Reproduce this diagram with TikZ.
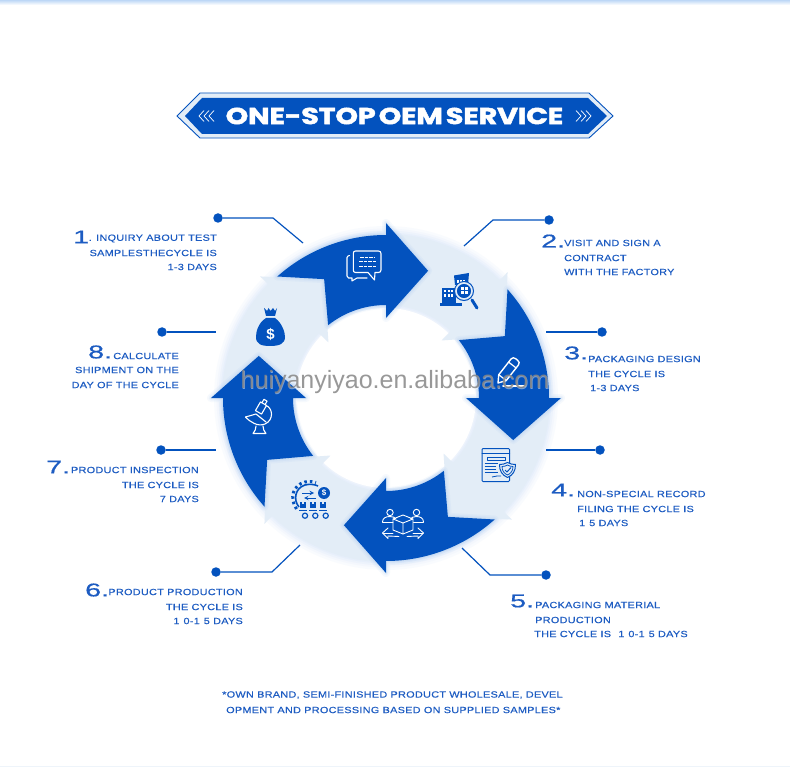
\documentclass[tikz,border=0pt]{standalone}
\usepackage{fontspec}
\usetikzlibrary{shadings}
\setmainfont{Liberation Sans}
\newfontfamily\widef[FakeStretch=1.21,LetterSpace=3,FakeBold=0.25]{Liberation Sans}
\newfontfamily\numf[FakeStretch=1.55,FakeBold=0.6]{Liberation Sans}
\newfontfamily\titlef[FakeStretch=1.25,FakeBold=2,LetterSpace=-1]{Poppins Bold}
\definecolor{royal}{HTML}{0352BE}
\definecolor{inkb}{HTML}{1D5CC2}
\definecolor{pale}{HTML}{E3EDF7}
\definecolor{halo}{HTML}{5A9BE8}
\newcommand{\darkpath}{(131.8:163) arc[start angle=131.8,end angle=90,radius=163pt] -- (90:175) -- (71.7:134) -- (90:80) -- (90:93) arc[start angle=90,end angle=128.5,radius=93pt] -- (117.5:134) -- cycle}
\newcommand{\onegap}{\hspace{4pt}}
\tikzset{
 txt/.style={font=\widef\fontsize{9}{9}\selectfont,text=inkb,inner sep=0pt},
 lft/.style={txt,anchor=west},
 rgt/.style={txt,anchor=east},
 num/.style={font=\numf\fontsize{18.5}{18.5}\selectfont,text=inkb,inner sep=0pt,anchor=west},
 lead/.style={draw=royal,line width=1.2pt},
 dotn/.style={circle,fill=royal,inner sep=0pt,minimum size=9.5pt},
 wht/.style={draw=white,line width=1.1pt,line join=round,line cap=round},
 blu/.style={draw=royal,line width=1pt,line join=round,line cap=round},
}
\begin{document}
\begin{tikzpicture}[x=1pt,y=-1pt]
\useasboundingbox (0,0) rectangle (790,767);
\fill[white] (0,0) rectangle (790,767);
\shade[top color=halo!40,bottom color=white] (0,0) rectangle (790,5);
\fill[pale!60] (0,765.5) rectangle (790,767);
% banner
\draw[draw=royal,line width=.9pt,fill=pale,line join=miter] (177,116) -- (200,93) -- (589,93) -- (613,116) -- (589,138) -- (200,138) -- cycle;
\fill[royal] (185,116) -- (202,98) -- (588,98) -- (607,116) -- (588,134) -- (202,134) -- cycle;
\foreach \a in {0,5,10}{
 \draw[white,line width=.7pt] (204+\a,110.5) -- (199+\a,116) -- (204+\a,121.5);
 \draw[white,line width=.7pt] (576+\a,110.5) -- (581+\a,116) -- (576+\a,121.5);
}
\node[font=\titlef\fontsize{23}{23}\selectfont,text=white,inner sep=0pt] (title) at (394.5,116) {ONE-STOP\hspace{3pt}OEM\hspace{3pt}SERVICE};
% ring
\begin{scope}[x=1pt,y=1pt,shift={(386pt,-398pt)}]
 \foreach \w/\o in {16/.03,11/.03,7/.04,3/.04}{
  \draw[halo,opacity=\o,line width=\w pt] (0,0) circle[radius=164pt];
  \draw[halo,opacity=\o,line width=\w pt] (0,0) circle[radius=93pt];
 }
 \fill[white] (0,0) circle[radius=90pt];
 \fill[pale,even odd rule] (0,0) circle[radius=164pt] (0,0) circle[radius=93pt];
 \foreach \k in {0,-90,-180,-270}{
  \begin{scope}[rotate=\k]
   \fill[pale] (136:175) -- (117.5:134) -- (136:80) -- cycle;
  \end{scope}
 }
 \foreach \k in {0,-90,-180,-270}{
  \begin{scope}[rotate=\k]
   \foreach \w/\o in {8/.05,5/.06,2.5/.08}{
    \draw[halo,opacity=\o,line width=\w pt,line join=round] \darkpath;
   }
   \fill[royal] \darkpath;
  \end{scope}
 }
\end{scope}
% leaders
\node[dotn] (d1) at (218,218) {};
\coordinate (e1) at (273,218); \coordinate (s1) at (303,243);
\draw[lead] (d1) -- (e1) -- (s1);
\node[dotn] (d2) at (549,220) {};
\coordinate (e2) at (493,220); \coordinate (s2) at (464,246);
\draw[lead] (d2) -- (e2) -- (s2);
\node[dotn] (d3) at (602,332) {};
\coordinate (s3) at (546,332);
\draw[lead] (d3) -- (s3);
\node[dotn] (d4) at (600,450) {};
\coordinate (s4) at (546,450);
\draw[lead] (d4) -- (s4);
\node[dotn] (d5) at (546,575) {};
\coordinate (e5) at (490,575); \coordinate (s5) at (462,548);
\draw[lead] (d5) -- (e5) -- (s5);
\node[dotn] (d6) at (216,572) {};
\coordinate (e6) at (272,572); \coordinate (s6) at (300,545);
\draw[lead] (d6) -- (e6) -- (s6);
\node[dotn] (d7) at (161,450) {};
\coordinate (s7) at (216,450);
\draw[lead] (d7) -- (s7);
\node[dotn] (d8) at (162,332) {};
\coordinate (s8) at (216,332);
\draw[lead] (d8) -- (s8);
% labels
\node[num] (n1) at (73,237) {1};
\node[rgt] (t1a) at (217,238.5) {. INQUIRY ABOUT TEST};
\node[rgt] (t1b) at (217,253) {SAMPLESTHECYCLE IS};
\node[rgt] (t1c) at (217,267) {1-3 DAYS};
\node[num] (n2) at (541,241) {2.};
\node[lft] (t2a) at (564,243) {VISIT AND SIGN A};
\node[lft] (t2b) at (564,258) {CONTRACT};
\node[lft] (t2c) at (564,272) {WITH THE FACTORY};
\node[num] (n3) at (564,353) {3.};
\node[lft] (t3a) at (588,359) {PACKAGING DESIGN};
\node[lft] (t3b) at (588,374) {THE CYCLE IS};
\node[lft] (t3c) at (590,388) {1-3 DAYS};
\node[num] (n4) at (551,490) {4.};
\node[lft] (t4a) at (577,494) {NON-SPECIAL RECORD};
\node[lft] (t4b) at (577,509) {FILING THE CYCLE IS};
\node[lft] (t4c) at (579,523) {1\onegap 5 DAYS};
\node[num] (n5) at (510,601) {5.};
\node[lft] (t5a) at (535,605) {PACKAGING MATERIAL};
\node[lft] (t5b) at (535,620) {PRODUCTION};
\node[lft] (t5c) at (534,634) {THE CYCLE IS \onegap 1\onegap 0-1\onegap 5 DAYS};
\node[num] (n6) at (85,590) {6.};
\node[rgt] (t6a) at (243,592) {PRODUCT PRODUCTION};
\node[rgt] (t6b) at (243,607) {THE CYCLE IS};
\node[rgt] (t6c) at (243,621) {1\onegap 0-1\onegap 5 DAYS};
\node[num] (n7) at (46,467) {7.};
\node[rgt] (t7a) at (199,470) {PRODUCT INSPECTION};
\node[rgt] (t7b) at (199,485) {THE CYCLE IS};
\node[rgt] (t7c) at (199,499) {7 DAYS};
\node[num] (n8) at (88,352) {8.};
\node[rgt] (t8a) at (179,356) {CALCULATE};
\node[rgt] (t8b) at (179,370) {SHIPMENT ON THE};
\node[rgt] (t8c) at (179,385) {DAY OF THE CYCLE};
\node[lft] (f1) at (222,695) {*OWN BRAND, SEMI-FINISHED PRODUCT WHOLESALE, DEVEL};
\node[lft] (f2) at (226,710) {OPMENT AND PROCESSING BASED ON SUPPLIED SAMPLES*};
% chat icon
\draw[wht] (349.5,255.5) -- (348,256) -- (347,257.5) -- (347,276) -- (348.5,278) -- (352,278) -- (352,281) -- (357,278) -- (367,278);
\draw[wht,fill=royal] (355.5,251) -- (378.5,251) .. controls (380,251) and (381,252) .. (381,253.5) -- (381,270) .. controls (381,271.5) and (380,272.5) .. (378.5,272.5) -- (375,272.5) -- (374.5,280) -- (368,272.5) -- (355.5,272.5) .. controls (354,272.5) and (353.3,271.5) .. (353.3,270) -- (353.3,253.5) .. controls (353.3,252) and (354,251) .. (355.5,251) -- cycle;
\foreach \y/\a/\b in {258/360/374,262/359/376,266.5/359/376}{\draw[white,line width=1pt,dash pattern=on 3.5pt off 1pt] (\a,\y) -- (\b,\y);}
% money bag
\fill[royal] (264,308) -- (267,311) -- (268.5,308) -- (270.5,311) -- (273,308) -- (275,311) -- (277,308) -- (275,316) -- (266,316) -- cycle;
\fill[royal] (266,318) .. controls (258,323) and (256,332) .. (256,337) .. controls (256,344) and (261,346) .. (270,346) .. controls (279,346) and (285,344) .. (285,337) .. controls (285,332) and (282,323) .. (275,318) -- cycle;
\node[inner sep=0pt,text=white,font=\bfseries\fontsize{15}{15}\selectfont] (dollar) at (270.5,334) {\$};
% factory
\fill[royal] (454,275.5) -- (469,273) -- (468,285) -- (455,285) -- cycle;
\fill[royal] (442,288) -- (456,288) -- (456,304) -- (442,304) -- cycle;
\fill[royal] (440,303.5) -- (462,303.5) -- (462,306) -- (440,306) -- cycle;
\foreach \x in {444,447.5,451}{\foreach \y in {290,294.5}{\fill[white] (\x,\y) rectangle +(2,2.5);}}
\foreach \x in {457,460,463}{\fill[white] (\x,280.5) rectangle +(1.5,2.5);}
\draw[royal,line width=1pt,fill=pale] (464,291) circle[radius=9.5];
\draw[royal,line width=1pt,fill=royal] (464,291) circle[radius=6.5];
\foreach \x in {461,465}{\foreach \y in {287,291.5}{\fill[white] (\x,\y) rectangle +(2.8,3);}}
\draw[royal,line width=3pt,line cap=round] (472,300) -- (477,308);
% pencil
\begin{scope}[shift={(498,383)},rotate=52]
 \draw[wht,fill=royal,line width=1.4pt] (0,0) -- (7,-4.5) -- (27,-4.5) .. controls (29,-4.5) and (30,-3) .. (30,-1) -- (30,1.5) .. controls (30,3.5) and (29,5) .. (27,5) -- (7,5) -- cycle;
 \draw[wht,line width=1.2pt] (7,-4.5) -- (7,5) (23,-4.5) -- (23,5);
\end{scope}
\draw[wht,line width=1.8pt] (503,386) -- (525,386);
% certificate
\draw[blu,rounded corners=1pt] (482,448.5) rectangle (509.5,481.5);
\draw[blu] (482,453.5) -- (509.5,453.5);
\draw[blu] (487,457) rectangle (505,460);
\foreach \y/\e in {463/498,466/496,469/496,472/498}{\draw[royal,line width=.8pt] (484.5,\y) -- (\e,\y);}
\draw[royal,line width=.8pt] (492,477) .. controls (494,475) and (495,478) .. (497,476) .. controls (498,475) and (499,477) .. (501,476);
\draw[blu,fill=pale] (507.5,462.5) .. controls (510,464) and (513,464.5) .. (515.5,464.5) .. controls (515.5,471) and (513,475) .. (507.5,477.5) .. controls (502,475) and (499.5,471) .. (499.5,464.5) .. controls (502,464.5) and (505,464) .. (507.5,462.5) -- cycle;
\draw[royal,line width=.8pt] (507.5,465) .. controls (509,466) and (511,466.5) .. (513,466.5) .. controls (513,470.5) and (511,473.5) .. (507.5,475) .. controls (504,473.5) and (502,470.5) .. (502,466.5) .. controls (504,466.5) and (506,466) .. (507.5,465) -- cycle;
\draw[royal,line width=1pt] (505,470) -- (507,472) -- (511,467.5);
% people and box
\draw[wht,line width=.9pt] (390,512.5) circle[radius=3.2] (416.5,512.5) circle[radius=3.2];
\draw[wht,line width=.9pt] (382.5,522) .. controls (382.5,518) and (386,516.5) .. (390,516.5) .. controls (393,516.5) and (395,517.5) .. (396,519);
\draw[wht,line width=.9pt] (423.5,522) .. controls (423.5,518) and (420,516.5) .. (416.5,516.5) .. controls (413.5,516.5) and (411.5,517.5) .. (410.5,519);
\draw[wht,line width=.9pt] (382.5,522) -- (393,522) (413.5,522) -- (423.5,522);
\draw[wht,line width=.9pt] (403,515) -- (413,519) -- (413,530) -- (403,534) -- (393,530) -- (393,519) -- cycle;
\draw[wht,line width=.9pt] (393,519) -- (403,523) -- (413,519) (403,523) -- (403,534);
\draw[wht,line width=.9pt] (383,533) -- (393,533) (413,533) -- (423,533);
\draw[wht,line width=.9pt] (388,528) -- (382.5,533) -- (388,538.5) -- (388,536) -- (399,536.5) (418,528) -- (423.5,533) -- (418,538.5) -- (418,536) -- (407,536.5);
% gear conveyor
\draw[royal,line width=1.6pt] (299,507) .. controls (293,500) and (295,488) .. (305,485) .. controls (309,484) and (314,484) .. (318,486);
\draw[royal,line width=3pt,dash pattern=on 2.5pt off 3pt] (296.5,509) .. controls (289,498) and (293,485) .. (305,482) .. controls (309,481) and (313,481.5) .. (316,482.5);
\draw[royal,line width=1pt,-stealth] (302,493) -- (314,493);
\draw[royal,line width=1pt,-stealth] (316,498) -- (304,498);
\fill[royal] (324,493) circle[radius=6];
\node[inner sep=0pt,text=white,font=\bfseries\fontsize{8}{8}\selectfont] (gdollar) at (324,493) {\$};
\foreach \x in {300,310,320}{
 \fill[royal] (\x,502) rectangle +(6,6);
 \fill[pale] (\x+2,502) rectangle +(2,2);
 \draw[royal,line width=1pt] (\x-1,510) -- (\x+7,510);
}
\foreach \x in {305,315.3,325.7}{\draw[royal,line width=1.2pt,fill=pale] (\x,515.7) circle[radius=2.6];}
% microscope
\begin{scope}[shift={(261,408)},rotate=-30]
 \draw[wht,fill=royal] (-3.5,-5) rectangle (3.5,5);
 \draw[wht] (-1.8,-5) -- (-1.8,-9) -- (1.8,-9) -- (1.8,-5);
\end{scope}
\draw[wht] (266,405.5) .. controls (273,408) and (274,420) .. (265,424) .. controls (258,427) and (250,422) .. (245.5,417);
\draw[wht] (245.5,417) -- (256,414) -- (266,422);
\draw[wht] (256,426) .. controls (256,429) and (255,431) .. (253,433.5) -- (266,433.5) .. controls (264,431) and (263,429) .. (263,426);
% watermark
\node[inner sep=0pt,text=white,opacity=.45,font=\fontsize{25}{25}\selectfont] (wm0) at (395.5,382.8) {huiyanyiyao.en.alibaba.com};
\node[inner sep=0pt,text=gray!95,opacity=.85,font=\fontsize{25}{25}\selectfont] (wm) at (395,382) {huiyanyiyao.en.alibaba.com};
\end{tikzpicture}
\end{document}
